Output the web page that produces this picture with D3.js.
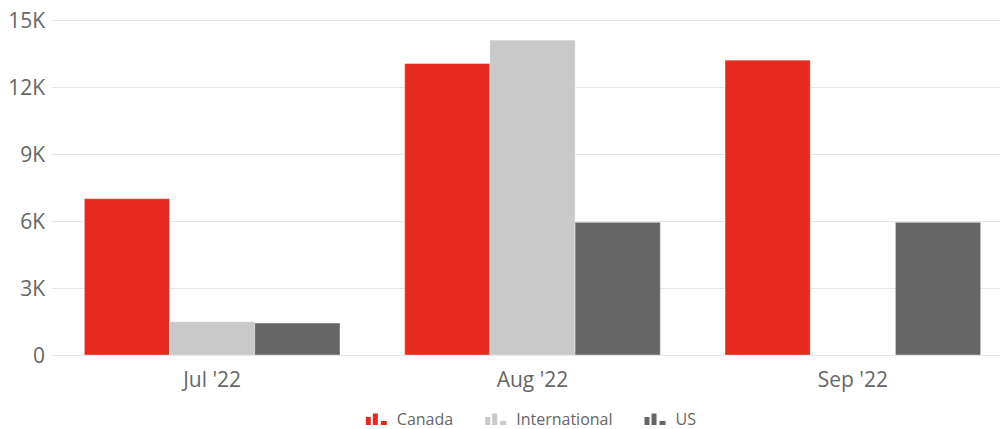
<!DOCTYPE html>
<html><head><meta charset="utf-8">
<script src="https://cdn.jsdelivr.net/npm/d3@7"></script>
<style>body{margin:0;background:#fff;font-family:"Open Sans",sans-serif;}</style>
</head><body><svg id="c" width="1001" height="429"></svg>
<script>
const categories = ["Jul '22", "Aug '22", "Sep '22"];
const seriesNames = ["Canada", "International", "US"];
const canada = [7000, 13050, 13200];
const international = [1490, 14100, 0];
const us = [1430, 5940, 5940];
const colors = ["#e52a1f", "#c9c9c9", "#666666"];
const yTicks = [0, 3000, 6000, 9000, 12000, 15000];
const yTickLabels = ["0", "3K", "6K", "9K", "12K", "15K"];

(function () {
const svg = d3.select("#c");
const mLeft = 52, mRight = 1000, mTop = 20, mBottom = 355;
const y = d3.scaleLinear().domain([0, 15000]).range([mBottom, mTop]);
const x = d3.scaleBand().domain(categories).range([mLeft, 1013]).paddingInner(0).paddingOuter(0);
const inner = d3.scaleBand().domain(seriesNames).range([0, x.bandwidth()]).paddingOuter(0.38).paddingInner(0);

// gridlines
svg.append("g").selectAll("line").data(yTicks).join("line")
  .attr("x1", mLeft).attr("x2", mRight)
  .attr("y1", d => Math.round(y(d)) + 0.5).attr("y2", d => Math.round(y(d)) + 0.5)
  .attr("stroke", "#e6e6e6").attr("stroke-width", 1);

// y labels
const yAxis = d3.axisLeft(y).tickValues(yTicks).tickFormat((d, i) => yTickLabels[i]).tickSize(0).tickPadding(7);
const ya = svg.append("g").attr("transform", `translate(${mLeft},0)`).call(yAxis);
ya.select(".domain").remove();
ya.selectAll("text").attr("font-family", "Open Sans").attr("font-size", 21).attr("fill", "#666").attr("dy", "0.36em");

// bars
const data = [canada, international, us];
const g = svg.append("g");
categories.forEach((c, ci) => {
  seriesNames.forEach((s, si) => {
    const v = data[si][ci];
    if (!v) return;
    g.append("rect")
      .attr("x", x(c) + inner(s))
      .attr("width", inner.bandwidth())
      .attr("y", y(v))
      .attr("height", y(0) - y(v))
      .attr("fill", colors[si])
      .attr("stroke", "#ffffff").attr("stroke-opacity", 0.35).attr("stroke-width", 1);
  });
});

// x axis
const xAxis = d3.axisBottom(x).tickSize(0).tickPadding(0);
const xa = svg.append("g").attr("transform", `translate(0,${mBottom})`).call(xAxis);
xa.select(".domain").remove();
xa.selectAll("text").attr("font-family", "Open Sans").attr("font-size", 21).attr("fill", "#666")
  .attr("y", 32).attr("dy", 0);
svg.append("line").attr("x1", mLeft).attr("x2", mRight).attr("y1", mBottom + 0.5).attr("y2", mBottom + 0.5)
  .attr("stroke", "#e6e6e6");

// legend
const lg = svg.append("g");
const baseY = 425;
const bars = [[0, 5, 8], [7, 5, 11.5], [15, 6, 4]];
const items = [];
seriesNames.forEach((s, i) => {
  const it = lg.append("g");
  bars.forEach(([dx, w, h]) => {
    it.append("rect").attr("x", dx).attr("y", baseY - h).attr("width", w).attr("height", h).attr("fill", colors[i]);
  });
  it.append("text").attr("x", 31).attr("y", baseY).text(s)
    .attr("font-family", "Open Sans").attr("font-size", 16).attr("fill", "#666");
  items.push(it);
});
let widths = items.map(it => it.node().getBBox().width);
const gap = 32;
const total = d3.sum(widths) + gap * (items.length - 1);
let cx = 531 - total / 2;
items.forEach((it, i) => { it.attr("transform", `translate(${cx},0)`); cx += widths[i] + gap; });
})();
</script></body></html>
